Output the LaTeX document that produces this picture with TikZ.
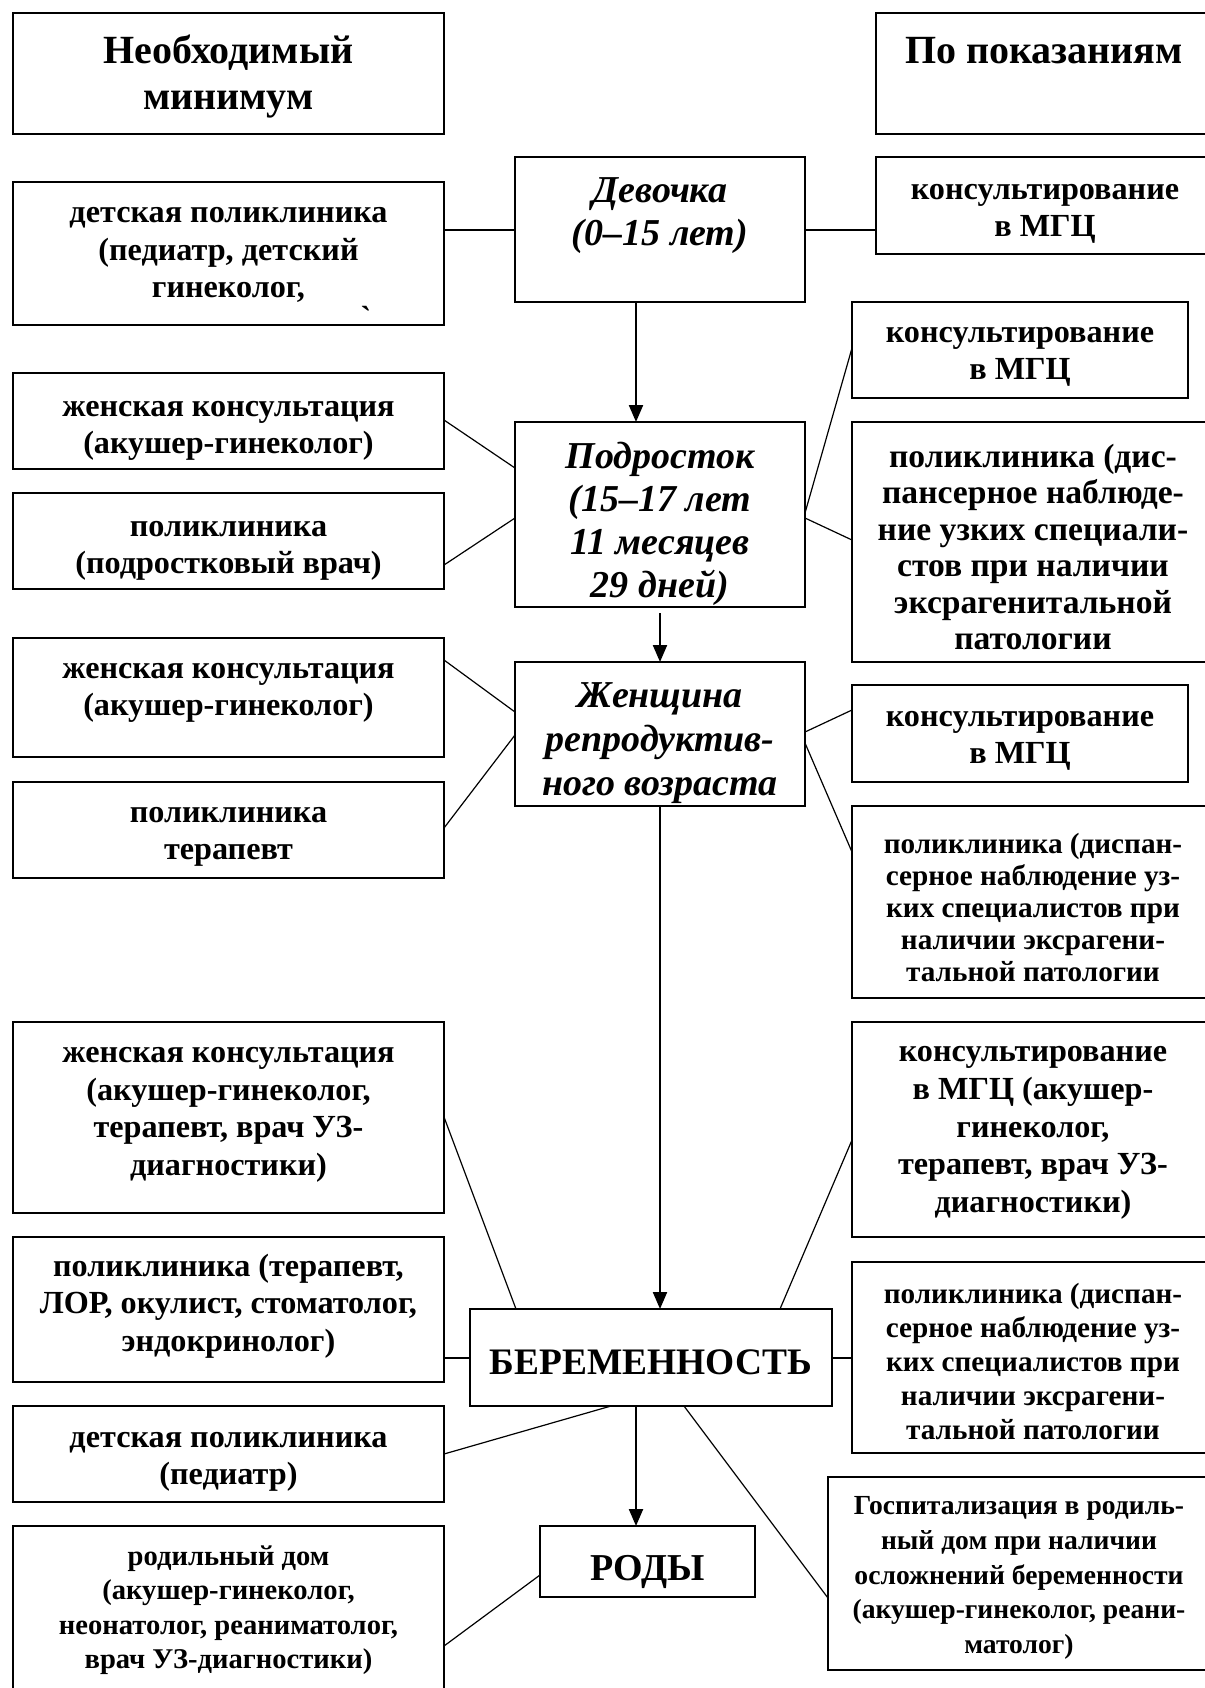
\documentclass[tikz,border=0pt]{standalone}
\usepackage{fontspec}
\setmainfont{Liberation Serif}
\newfontfamily\rawserif{Liberation Serif}[Ligatures=TeXOff]
\usetikzlibrary{arrows.meta}
\newcommand\bx[5]{\node[boxst, minimum width={(#4-#2)*0.5pt}, minimum height={(#5-#3)*0.5pt}] (#1) at ({(#2+#4)/2},{(#3+#5)/2}) {};}
\begin{document}
\begin{tikzpicture}[x=0.5pt,y=-0.5pt,
 boxst/.style={draw, line width=1pt, inner sep=0pt, outer sep=0pt},
 txt/.style={align=center, inner sep=0pt, font={\bfseries\fontsize{16.1}{18.8}\selectfont}},
 txts/.style={align=center, inner sep=0pt, font={\bfseries\fontsize{14.6}{16.5}\selectfont}},
 hd/.style={align=center, inner sep=0pt, font={\bfseries\fontsize{20}{23}\selectfont}},
 ital/.style={align=center, inner sep=0pt, font={\bfseries\itshape\fontsize{19}{21.5}\selectfont}},
 ln/.style={line width=0.6pt},
 hln/.style={line width=1pt},
 arr/.style={line width=1.1pt, -{Triangle[length=8.5pt,width=7pt]}}
]
\clip (0,0) rectangle (1205,1688);
\useasboundingbox (0,0) rectangle (1205,1688);
% boxes
\bx{min}{13}{13}{444}{134}
\bx{pok}{876}{13}{1215}{134}
\bx{det1}{13}{182}{444}{325}
\bx{dev}{515}{157}{805}{302}
\bx{kon1}{876}{157}{1215}{254}
\bx{kon2}{852}{302}{1188}{398}
\bx{zh1}{13}{373}{444}{469}
\bx{pp}{13}{493}{444}{589}
\bx{pod}{515}{422}{805}{607}
\bx{pd1}{852}{422}{1215}{662}
\bx{zh2}{13}{638}{444}{757}
\bx{zhen}{515}{662}{805}{806}
\bx{kon3}{852}{685}{1188}{782}
\bx{pt}{13}{782}{444}{878}
\bx{pd2}{852}{806}{1215}{998}
\bx{zh3}{13}{1022}{444}{1213}
\bx{konb}{852}{1022}{1215}{1237}
\bx{plor}{13}{1237}{444}{1382}
\bx{ber}{470}{1309}{832}{1406}
\bx{pd3}{852}{1262}{1215}{1453}
\bx{dp}{13}{1406}{444}{1502}
\bx{gosp}{828}{1477}{1215}{1670}
\bx{rody}{540}{1526}{755}{1597}
\bx{rd}{13}{1526}{444}{1700}
% texts
\node[hd] (tmin) at (228.5,76) {Необходимый\\минимум};
\node[hd] (tpok) at (1044,51) {По показаниям};
\node[txt] (tdet1) at (228.5,255) {детская поликлиника\\(педиатр, детский\\гинеколог,};
\node[anchor=north, inner sep=0pt, font={\rawserif\bfseries\fontsize{16}{18}\selectfont}] (tick) at (366,306) {`};
\node[ital] (tdev) at (660,216) {Девочка\\(0–15 лет)};
\node[txt] (tkon1) at (1045,214) {консультирование\\в МГЦ};
\node[txt] (tkon2) at (1020,357) {консультирование\\в МГЦ};
\node[txt] (tzh1) at (228.5,431) {женская консультация\\(акушер-гинеколог)};
\node[txt] (tpp) at (228.5,551) {поликлиника\\(подростковый врач)};
\node[ital] (tpod) at (660,524) {Подросток\\(15–17 лет\\11 месяцев\\29 дней)};
\node[txt, font={\bfseries\fontsize{16.8}{18.25}\selectfont}] (tpd1) at (1033,547) {поликлиника (дис-\\пансерное наблюде-\\ние узких специали-\\стов при наличии\\эксрагенитальной\\патологии};
\node[txt] (tzh2) at (228.5,693) {женская консультация\\(акушер-гинеколог)};
\node[ital, font={\bfseries\itshape\fontsize{19}{22}\selectfont}] (tzhen) at (660,743) {Женщина\\репродуктив-\\ного возраста};
\node[txt] (tkon3) at (1020,741) {консультирование\\в МГЦ};
\node[txt] (tpt) at (228.5,837) {поликлиника\\терапевт};
\node[txts, font={\bfseries\fontsize{14.6}{16}\selectfont}] (tpd2) at (1033,907) {поликлиника (диспан-\\серное наблюдение уз-\\ких специалистов при\\наличии эксрагени-\\тальной патологии};
\node[txt] (tzh3) at (228.5,1115) {женская консультация\\(акушер-гинеколог,\\терапевт, врач УЗ-\\диагностики)};
\node[txt] (tkonb) at (1033,1133) {консультирование\\в МГЦ (акушер-\\гинеколог,\\терапевт, врач УЗ-\\диагностики)};
\node[txt] (tplor) at (228.5,1306) {поликлиника (терапевт,\\ЛОР, окулист, стоматолог,\\эндокринолог)};
\node[hd, font={\bfseries\fontsize{18.7}{22}\selectfont}] (tber) at (651,1362) {БЕРЕМЕННОСТЬ};
\node[txts, font={\bfseries\fontsize{14.6}{17}\selectfont}] (tpd3) at (1033,1361) {поликлиника (диспан-\\серное наблюдение уз-\\ких специалистов при\\наличии эксрагени-\\тальной патологии};
\node[txt] (tdp) at (228.5,1462) {детская поликлиника\\(педиатр)};
\node[txts, font={\bfseries\fontsize{13.8}{17.3}\selectfont}] (tgosp) at (1019,1578) {Госпитализация в родиль-\\ный дом при наличии\\осложнений беременности\\(акушер-гинеколог, реани-\\матолог)};
\node[hd, font={\bfseries\fontsize{19}{22}\selectfont}] (trody) at (648,1572) {РОДЫ};
\node[txts, font={\bfseries\fontsize{14.3}{17.25}\selectfont}] (trd) at (228.5,1610) {родильный дом\\(акушер-гинеколог,\\неонатолог, реаниматолог,\\врач УЗ-диагностики)};
% connectors
\draw[hln] (det1.east |- dev.west) -- (dev.west);
\draw[hln] (dev.east) -- (kon1.west |- dev.east);
\coordinate (a0) at ([xshift=-12pt]dev.south);
\draw[arr] (a0) -- (a0 |- pod.north);
\draw[arr] ([yshift=-3pt]pod.south) -- (zhen.north);
\draw[ln] (zh1.east |- 0,420) -- (pod.west |- 0,468);
\draw[ln] (pp.east |- 0,565) -- (pod.west |- 0,518);
\draw[ln] (pod.east |- 0,513) -- (kon2.west |- 0,348);
\draw[ln] (pod.east |- 0,518) -- (pd1.west |- 0,540);
\draw[ln] (zh2.east |- 0,660) -- (zhen.west |- 0,712);
\draw[ln] (pt.east |- 0,828) -- (zhen.west |- 0,735);
\draw[ln] (zhen.east |- 0,732) -- (kon3.west |- 0,710);
\draw[ln] (zhen.east |- 0,743) -- (pd2.west |- 0,852);
\draw[arr] (zhen.south) -- (zhen.south |- ber.north);
\draw[ln] (zh3.east |- 0,1117) -- (ber.north -| 516,0);
\draw[ln] (konb.west |- 0,1140) -- (ber.north -| 780,0);
\draw[hln] (plor.east |- ber.west) -- (ber.west);
\draw[hln] (ber.east) -- (pd3.west |- ber.east);
\draw[ln] (ber.south -| 611,0) -- (dp.east |- 0,1454);
\draw[ln] (ber.south -| 684,0) -- (gosp.west |- 0,1598);
\coordinate (a1) at ([xshift=-7.5pt]ber.south);
\draw[arr] (a1) -- (a1 |- rody.north);
\draw[ln] (rody.west |- 0,1575) -- (rd.east |- 0,1646);
\end{tikzpicture}
\end{document}
